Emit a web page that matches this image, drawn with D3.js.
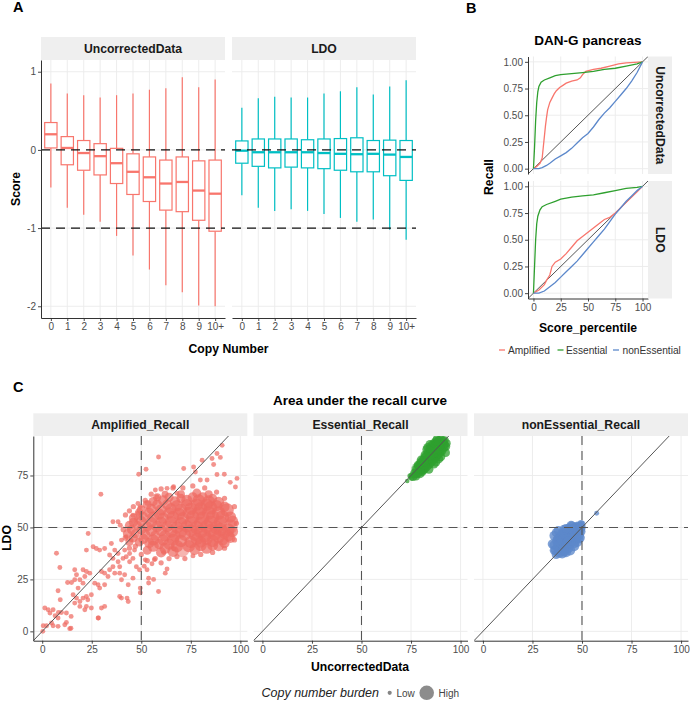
<!DOCTYPE html>
<html><head><meta charset="utf-8">
<script src="https://cdn.jsdelivr.net/npm/d3@7"></script>
<style>
body{margin:0;background:#fff}
svg{display:block;font-family:"Liberation Sans",Arial,Helvetica,sans-serif}
</style>
</head><body>
<svg id="c" width="690" height="701"></svg>
<script>
// ---------------- DATA ----------------
const copyNumbers = ["0","1","2","3","4","5","6","7","8","9","10+"];
// [lower whisker, Q1, median, Q3, upper whisker]
const uncorrectedBoxes = [
  [-0.48,0.025,0.20,0.35,0.85],
  [-0.74,-0.19,0.025,0.17,0.72],
  [-0.83,-0.26,-0.04,0.12,0.70],
  [-0.92,-0.32,-0.08,0.08,0.67],
  [-1.10,-0.43,-0.17,0.02,0.70],
  [-1.35,-0.57,-0.28,-0.05,0.72],
  [-1.53,-0.66,-0.35,-0.09,0.77],
  [-1.73,-0.77,-0.43,-0.13,0.79],
  [-1.82,-0.79,-0.41,-0.09,0.93],
  [-1.99,-0.90,-0.52,-0.14,0.80],
  [-2.00,-1.04,-0.56,-0.13,0.90]
];
const ldoBoxes = [
  [-0.58,-0.17,-0.01,0.115,0.54],
  [-0.74,-0.21,-0.03,0.14,0.66],
  [-0.78,-0.23,-0.03,0.14,0.68],
  [-0.76,-0.22,-0.03,0.14,0.67],
  [-0.78,-0.23,-0.03,0.13,0.67],
  [-0.82,-0.24,-0.04,0.14,0.72],
  [-0.87,-0.26,-0.05,0.145,0.75],
  [-0.92,-0.28,-0.055,0.155,0.80],
  [-0.89,-0.28,-0.05,0.12,0.71],
  [-1.02,-0.33,-0.06,0.125,0.81],
  [-1.15,-0.39,-0.09,0.12,0.89]
];
const scoreTicks = [-2,-1,0,1];
const scoreRefLines = [0,-1];

// Panel B: recall curves [Score_percentile, Recall]
const amplifiedUncorrected = [[0,0],[3,0.02],[6,0.05],[8,0.1],[9,0.2],[10,0.3],[11,0.4],[12,0.48],[13,0.55],[15,0.62],[17,0.66],[19,0.7],[21,0.73],[24,0.76],[27,0.78],[30,0.8],[35,0.82],[40,0.83],[43,0.85],[45,0.88],[48,0.91],[55,0.93],[62,0.94],[70,0.96],[78,0.98],[85,0.99],[100,1]];
const essentialUncorrected = [[0,0],[1,0.2],[2,0.45],[3,0.62],[4,0.72],[5,0.77],[7,0.81],[10,0.83],[15,0.85],[20,0.87],[25,0.88],[35,0.89],[45,0.9],[55,0.91],[65,0.93],[75,0.94],[85,0.96],[95,0.98],[100,1]];
const nonEssentialUncorrected = [[0,0],[5,0],[8,0.01],[12,0.03],[15,0.05],[20,0.09],[25,0.12],[30,0.15],[35,0.19],[40,0.24],[45,0.29],[50,0.33],[55,0.39],[60,0.46],[65,0.52],[70,0.57],[75,0.63],[80,0.69],[85,0.75],[90,0.82],[95,0.9],[100,1]];
const amplifiedLDO = [[0,0],[5,0.03],[10,0.08],[12,0.12],[15,0.17],[17,0.25],[20,0.29],[25,0.32],[30,0.37],[35,0.43],[40,0.49],[45,0.53],[50,0.57],[55,0.61],[60,0.65],[65,0.69],[70,0.71],[75,0.75],[80,0.8],[85,0.85],[90,0.9],[95,0.95],[100,1]];
const essentialLDO = [[0,0],[1,0.25],[2,0.5],[3,0.65],[4,0.72],[6,0.78],[8,0.81],[12,0.83],[20,0.86],[25,0.88],[35,0.9],[45,0.91],[55,0.92],[65,0.94],[75,0.96],[85,0.98],[95,0.99],[100,1]];
const nonEssentialLDO = [[0,0],[5,0],[10,0.02],[15,0.06],[20,0.1],[25,0.15],[30,0.2],[35,0.25],[40,0.3],[45,0.36],[50,0.42],[55,0.48],[60,0.54],[65,0.6],[70,0.67],[75,0.74],[80,0.8],[85,0.86],[90,0.91],[95,0.96],[100,1]];
const percentileTicks = [0,25,50,75,100];
const recallTicks = [0,0.25,0.5,0.75,1];
const recallClasses = ["Amplified","Essential","nonEssential"];

// Panel C: [UncorrectedData, LDO, copy-number burden 0..1]
const amplifiedPts = [
 [0.3,0,0.12],[0.5,2.7,0.12],[2.2,2.7,0.12],[4.7,4,0.12],[5.5,2.7,0.12],[8,2.4,0.12],[11.4,3.2,0.12],[12.2,4.3,0.12],[13.9,1.3,0.12],[14.5,1.5,0.12],
 [1.3,11.2,0.12],[3,10.4,0.12],[5.5,10.4,0.12],[3.9,8.8,0.12],[9.7,9.1,0.12],[12.2,8.8,0.12],[8,6.4,0.12],[6.5,7.5,0.12],[9.1,15.2,0.12],[14.6,7.2,0.12],[8.2,9.1,0.12],[28.4,6.4,0.12],
 [8,19.5,0.12],[12.8,23.5,0.12],[14.8,23.5,0.12],[16.4,29.6,0.12],[17.3,27.2,0.12],[16.4,24.8,0.12],[19,24.8,0.12],[20.6,29.6,0.12],[22.3,28.8,0.12],[24,28,0.12],[21.5,26.4,0.12],[20.6,23.2,0.12],[18.1,20.8,0.12],[15.6,17.6,0.12],[17.3,16,0.12],[16.4,13.6,0.12],[19,14.4,0.12],[20.6,16,0.12],[22.3,16.8,0.12],[24.8,17.6,0.12],[23,15.2,0.12],[19,12,0.12],[22.3,12,0.12],[24.8,11.2,0.12],[21.5,10.4,0.12],[28.2,6.4,0.12],[29.9,11.2,0.12],[31.5,12,0.12],
 [29,20.8,0.12],[28.2,22.4,0.12],[31.5,22.4,0.12],[26.5,23.2,0.12],[29.9,28.8,0.12],[31.5,28,0.12],[34,29.6,0.12],[33.2,26.4,0.12],[36.6,28,0.12],[35.7,31.1,0.12],[39.1,31.1,0.12],[39.1,28,0.12],[41.6,27.2,0.12],[40,24.8,0.12],[40,16,0.12],[43.4,14.4,0.12],[39.1,16.8,0.12],[43.4,22.4,0.12],[45.8,25.6,0.12],
 [25.7,40.7,0.12],[27.3,39.9,0.12],[29,39.1,0.12],[31.5,39.9,0.12],[22.3,39.1,0.12],[23.2,47.1,0.12],[34.9,42.3,0.12],[36.6,39.1,0.12],[38.3,37.5,0.12],[34,36.7,0.12],[35.7,35.1,0.12],[38.3,33.5,0.12],[40.8,35.1,0.12],[42.4,35.9,0.12],[44.1,33.5,0.12],[45.8,35.1,0.12],[41.6,39.1,0.12],[44.1,37.5,0.12],[46.6,39.1,0.12],[47.5,31.1,0.12],[49.1,29.6,0.12],[40,43.9,0.12],[42.4,45.5,0.12],[44.9,43.9,0.12],[35.7,52.7,0.12],[38.3,52.7,0.12],[39.4,51.1,0.12],[45.8,55.9,0.12],[47.5,54.3,0.12],[48.3,56.7,0.12],[48.3,61.5,0.12],
 [29.6,66,0.12],[48.7,75.6,0.12],[52.4,78,0.12],[58.7,83.9,0.12],[7.2,37.6,0.12],[8.9,30.7,0.12],
 [42.8,16,0.12],[49.5,20.8,0.12],[49.5,18.6,0.12],[53.7,25.6,0.12],[53.7,23.3,0.12],[58.7,19.2,0.12],[56.2,25,0.12],[62.1,28,0.12],[63,30,0.12],[61.3,37.9,0.12],[66.3,39.7,0.12],[76.1,36.3,0.12],[55.4,32.5,0.12],[56.6,34.5,0.12],[52,34.4,0.12],[51.5,31.3,0.12],[52.9,29.6,0.12],
 [49.5,60,0.12],[52.9,61.6,0.12],[57.1,68,0.12],[57.9,64.8,0.12],[63,68.8,0.12],[66.3,69.6,0.12],[68,66.4,0.12],[71.4,78.4,0.12],[76.4,79.1,0.12],[77.3,76.7,0.12],[80.7,82.3,0.12],[85.7,83.2,0.12],[88.2,85.6,0.12],[89.9,83.7,0.12],[90.8,89.5,0.12],[86.5,80.3,0.12],[91.9,75.6,0.12],[98.3,73.6,0.12],[97.5,69.5,0.12],[94.9,71.7,0.12],[79.8,72.8,0.12],[83.2,72.8,0.12],[88.2,75.5,0.12],
 [42,56,0.15],[44,58,0.15],[46,60,0.15],[41,49,0.2],[42,45,0.2],[44,40,0.15],[47,41,0.15],[50,37,0.15],[53,34,0.15],[57,35,0.15],[60,33,0.15],[64,35,0.15],[68,36,0.15],[72,35,0.15],[80,37,0.15],[86,38,0.15],[92,40,0.15],[97,44,0.15],[98,52,0.15],[97,60,0.15],[92,64,0.15],[88,67,0.15],[82,69,0.15],[76,70,0.15],[71,69,0.15],[66,69,0.15],[60,68.5,0.15],[55,66,0.15],[52,63,0.15],
 [53,39,0.5],[60,38,0.6],[66,38.5,0.7],[70.5,39.2,1.0],[77,39.5,0.7],[83,40,0.7],[89,41,0.6],
 [56,41,0.7],[62,40,0.7],[68,41,0.8],[74,41,0.8],[80,41.5,0.8],[86,41.5,0.7],[92,42.5,0.6],
 [44,43,0.4],[49,43,0.5],[54,42.5,0.6],[59,42,0.6],[64,42,0.7],[75,43,0.8],[80,43,0.7],[86,43.5,0.8],[91,44,0.7],[95,45,0.6],
 [46,45,0.5],[51,44.5,0.6],[56,44,0.7],[61,44,0.7],[66,44,0.8],[70,43.5,0.8],[78,44.5,0.8],[83,44.5,0.8],[89,45.5,0.8],[94,46,0.7],
 [43,47,0.5],[47,47,0.5],[52,46.5,0.6],[57,46,0.6],[62,46,0.7],[67,46,0.7],[72,46.5,0.8],[77,46.5,0.8],[82,46,0.9],[87,47,0.9],[92,47.5,0.8],[96,48,0.7],
 [45,49,0.5],[50,49,0.6],[55,48.5,0.7],[60,48.5,0.7],[65,48,0.8],[70,48,0.8],[75,48.5,0.8],[80,48,0.9],[85,48.5,0.9],[90,49,0.9],[94,49,0.8],
 [44,51,0.5],[48,51,0.5],[53,50.5,0.6],[58,50.5,0.7],[63,50.5,0.7],[68,50,0.8],[73,50.5,0.8],[78,50,0.9],[83,50.5,0.9],[88,50,0.9],[95,50.4,1.0],
 [46,52.5,0.5],[50,53,0.6],[55,52.5,0.7],[60,52.5,0.7],[65,52.5,0.8],[70,52,0.8],[75,52.5,0.8],[80,52,0.9],[85,52.5,0.9],[90,52.5,0.9],[96,53,0.7],
 [46,54.5,0.5],[51,55,0.6],[56,55,0.7],[61,54.5,0.7],[66,55,0.8],[71,54.5,0.8],[76,55,0.9],[81,54.5,0.9],[86,55,0.9],[91,55,0.9],[95,55,0.7],
 [49,57,0.5],[54,57,0.6],[59,56.5,0.7],[64,57,0.7],[69,56.5,0.8],[74,57,0.8],[79,57,0.9],[84,57,0.9],[89,57,0.9],
 [50,58.5,0.5],[55,59,0.6],[60,58.5,0.7],[65,59,0.7],[70,58.5,0.8],[75,59,0.8],[80,59,0.9],[85,59.5,0.9],[93.3,58.4,0.9],
 [53,61,0.5],[58,61,0.6],[63,61,0.6],[68,60.5,0.7],[73,61,0.7],[78,61,0.8],[83,61,0.8],[88,60.5,0.7],[92,60,0.6],
 [56,62.5,0.5],[61,63,0.6],[67,62.5,0.6],[73,63,0.7],[79,63,0.8],[84,62.5,0.8],[89,62,0.7],
 [58,64.5,0.4],[64,64.5,0.5],[70,64,0.5],[76,64.5,0.6],[81,64.5,0.6],[86,64,0.5],
 [62,66,0.3],[70,66,0.4],[78,66.5,0.5],[84,66,0.4]
];
const essentialPts = [
 [73.1,72.3,0.08],[75.3,73.9,0.2],[74.5,74.8,0.15],[78.8,77.9,1.0],[80.5,78.5,0.8],
 [76,74.5,0.5],[77.5,74.5,0.4],[92,92,0.4],[92.5,89,0.5],[83,87.5,0.5],[85.5,89.5,0.5],[88,92.5,0.4],[89,83,0.5],[86.5,80.5,0.5],[84,78,0.5],
 [83.5,88.5,0.5],[84.5,90,0.45],[93,90.5,0.4],[92.5,86,0.45],[90,84,0.5],[87.5,81.5,0.5],
 [77,76,0.55],[78,78,0.55],[79,79.5,0.55],[80,81,0.55],[81,82,0.55],[82,83.5,0.55],[83,84.5,0.55],[84,86,0.55],[85,87,0.55],[86,88,0.55],[87,89.5,0.55],[88,90.5,0.55],[89,91.5,0.55],[90,92,0.55],[91,91.5,0.55],[91.5,90,0.55],[91.5,88.5,0.55],[90.5,87,0.55],[89.5,86,0.55],[88.5,85,0.55],[87.5,84,0.55],[86.5,83,0.55],[85.5,82,0.55],[84.5,81,0.55],[83.5,80,0.55],[82.5,79,0.55],[81.5,78,0.55],[80.5,77,0.55],[79.5,76,0.55],[78,76,0.55],
 [79.5,78,0.5],[81,80,0.5],[82.5,81.5,0.5],[84,83,0.5],[85.5,84.5,0.5],[87,86,0.5],[88.5,87.5,0.5],[89.5,89,0.5],[80,79.5,0.5],[83,82.5,0.5],[86,85.5,0.5],[88,88.5,0.5],[90,90,0.5],[85,86,0.5],[82,80,0.5],[87,87.5,0.5],[84.5,84.5,0.5],[81.5,81.5,0.5],[78.5,80,0.45],[80,82.5,0.45],[82,85,0.45],[84.5,88,0.45],[86.5,90.5,0.45],[87.5,91.5,0.45]
];
const nonEssentialPts = [
 [57.4,56.8,0.12],
 [36,39,0.5],[35,42,0.5],[37,37,0.5],[41,38.5,0.6],[43,40,0.6],[46,42.5,0.6],[48.5,44.5,0.5],[38,44.5,0.6],[40,47,0.6],[42,49.5,0.5],[44.5,51,0.5],
 [36,46,0.55],[37,47.5,0.5],[38,48.5,0.5],[47.5,43,0.6],[49,45,0.55],[46,41,0.6],[44,39,0.6],[40,41,0.6],[38,42,0.6],[42,38,0.55],[41,49,0.55],[49,49,0.55],
 [37,39,0.65],[38,40.5,0.65],[39,42,0.65],[40,43,0.65],[41,44,0.65],[42,45.5,0.65],[43,46.5,0.65],[44,47.5,0.65],[45,48.5,0.65],[46,49.5,0.6],[47,50,0.6],[48,50.5,0.55],[49,50.5,0.5],[50,50,0.35],[49.5,48,0.5],[48.5,46.5,0.6],[47,45,0.65],[45.5,44,0.65],[44,42.5,0.65],[42.5,41.5,0.65],[41,40.5,0.65],[39.5,39,0.65],[38.5,38,0.65],[40,37.5,0.6],[36,41.5,0.55],[37.5,43.5,0.6],[39,45,0.65],[40.5,46.5,0.65],[42,48,0.65],[43.5,49.5,0.6],[45,50.5,0.55],[44,44.5,0.65],[41.5,42.5,0.65],[46.5,47.5,0.65],[43,43,0.65],[48,48.5,0.6],[50,51.5,0.3],[49.5,52,0.25]
];
const aucXTicks = [0,25,50,75,100];
const aucYTicks = [0,25,50,75];
const aucFacets = ["Amplified_Recall","Essential_Recall","nonEssential_Recall"];

// ---------------- STYLE ----------------
const GRID="#EBEBEB", AXIS="#333333", TICKTXT="#4D4D4D", STRIP="#EFEFEF";
const RED="#F8766D", TEAL="#00BFC4", GREEN="#2FA02F", BLUE="#5C88CB";
const svg = d3.select("#c");

function stripBox(x0,y0,w,h,label,vertical){
  svg.append("rect").attr("x",x0).attr("y",y0).attr("width",w).attr("height",h).attr("fill",STRIP);
  const t = svg.append("text").text(label).attr("font-weight","bold").attr("font-size",12.2)
    .attr("fill","#1a1a1a").attr("text-anchor","middle").attr("dominant-baseline","central");
  if(vertical) t.attr("transform",`translate(${x0+w/2},${y0+h/2}) rotate(90)`);
  else t.attr("x",x0+w/2).attr("y",y0+h/2+0.5);
}
function styleAxis(g,fs){
  g.select(".domain").attr("stroke",AXIS).attr("stroke-width",1);
  g.selectAll(".tick line").attr("stroke",AXIS).attr("stroke-width",0.9);
  g.selectAll(".tick text").attr("fill",TICKTXT).attr("font-size",fs).attr("font-family",'"Liberation Sans",Arial,sans-serif');
}
function panelLabel(t,x,y){
  svg.append("text").text(t).attr("x",x).attr("y",y).attr("font-weight","bold").attr("font-size",14.5);
}
function clip(id,x,y,w,h){
  svg.append("clipPath").attr("id",id).append("rect").attr("x",x).attr("y",y).attr("width",w).attr("height",h);
}

// ================= PANEL A =================
panelLabel("A",13,12);
const yA = d3.scaleLinear().domain([-2.15,1.15]).range([318,60]);
const aPanels = [
  {x0:41,x1:225,label:"UncorrectedData",data:uncorrectedBoxes,col:RED},
  {x0:232,x1:416,label:"LDO",data:ldoBoxes,col:TEAL}
];
aPanels.forEach((p,pi)=>{
  const x = d3.scalePoint().domain(copyNumbers).range([p.x0,p.x1]).padding(0.6);
  const g = svg.append("g");
  copyNumbers.forEach(c=>g.append("line").attr("x1",x(c)).attr("x2",x(c)).attr("y1",60).attr("y2",318).attr("stroke",GRID).attr("stroke-width",0.9));
  scoreTicks.forEach(v=>g.append("line").attr("x1",p.x0).attr("x2",p.x1).attr("y1",yA(v)).attr("y2",yA(v)).attr("stroke",GRID).attr("stroke-width",0.9));
  const bw = x.step()*0.75;
  p.data.forEach((b,i)=>{
    const cx = x(copyNumbers[i]);
    g.append("line").attr("x1",cx).attr("x2",cx).attr("y1",yA(b[4])).attr("y2",yA(b[3])).attr("stroke",p.col).attr("stroke-width",1.2);
    g.append("line").attr("x1",cx).attr("x2",cx).attr("y1",yA(b[1])).attr("y2",yA(b[0])).attr("stroke",p.col).attr("stroke-width",1.2);
    g.append("rect").attr("x",cx-bw/2).attr("width",bw).attr("y",yA(b[3])).attr("height",yA(b[1])-yA(b[3]))
      .attr("fill","#fff").attr("stroke",p.col).attr("stroke-width",1.2);
    g.append("line").attr("x1",cx-bw/2).attr("x2",cx+bw/2).attr("y1",yA(b[2])).attr("y2",yA(b[2])).attr("stroke",p.col).attr("stroke-width",2.3);
  });
  scoreRefLines.forEach(v=>g.append("line").attr("x1",p.x0).attr("x2",p.x1).attr("y1",yA(v)).attr("y2",yA(v))
    .attr("stroke","#111").attr("stroke-width",1.2).attr("stroke-dasharray","9,6"));
  const ax = svg.append("g").attr("transform","translate(0,318)").call(d3.axisBottom(x).tickSize(3).tickSizeOuter(0).tickPadding(2));
  styleAxis(ax,10);
  if(pi===0){
    const ay = svg.append("g").attr("transform",`translate(${p.x0},0)`).call(d3.axisLeft(yA).tickValues(scoreTicks).tickSize(3).tickSizeOuter(0).tickPadding(2).tickFormat(d=>String(d)));
    styleAxis(ay,10);
  }
  stripBox(p.x0,37,p.x1-p.x0,23,p.label,false);
});
svg.append("text").text("Score").attr("transform","translate(19.5,189) rotate(-90)").attr("text-anchor","middle").attr("font-weight","bold").attr("font-size",12.2);
svg.append("text").text("Copy Number").attr("x",228.5).attr("y",353).attr("text-anchor","middle").attr("font-weight","bold").attr("font-size",12.2);

// ================= PANEL B =================
panelLabel("B",466,12.5);
svg.append("text").text("DAN-G pancreas").attr("x",588).attr("y",45).attr("text-anchor","middle").attr("font-weight","bold").attr("font-size",13.5);
const xB = d3.scaleLinear().domain([-5,105]).range([528,648]);
const classColor = d3.scaleOrdinal().domain(recallClasses).range([RED,GREEN,BLUE]);
const bPanels = [
  {y0:56.5,y1:174,label:"UncorrectedData",series:[amplifiedUncorrected,essentialUncorrected,nonEssentialUncorrected]},
  {y0:181,y1:298.5,label:"LDO",series:[amplifiedLDO,essentialLDO,nonEssentialLDO]}
];
bPanels.forEach((p,pi)=>{
  const y = d3.scaleLinear().domain([-0.05,1.05]).range([p.y1,p.y0]);
  const g = svg.append("g");
  clip("clipB"+pi,528,p.y0,120,p.y1-p.y0);
  percentileTicks.forEach(v=>g.append("line").attr("x1",xB(v)).attr("x2",xB(v)).attr("y1",p.y0).attr("y2",p.y1).attr("stroke",GRID).attr("stroke-width",0.9));
  recallTicks.forEach(v=>g.append("line").attr("x1",528).attr("x2",648).attr("y1",y(v)).attr("y2",y(v)).attr("stroke",GRID).attr("stroke-width",0.9));
  const inner = g.append("g").attr("clip-path",`url(#clipB${pi})`);
  inner.append("line").attr("x1",xB(-5)).attr("y1",y(-0.05)).attr("x2",xB(105)).attr("y2",y(1.05)).attr("stroke","#555").attr("stroke-width",1);
  const line = d3.line().x(d=>xB(d[0])).y(d=>y(d[1]));
  p.series.forEach((s,i)=>inner.append("path").attr("d",line(s)).attr("fill","none").attr("stroke",classColor(recallClasses[i])).attr("stroke-width",1.3));
  const ay = svg.append("g").attr("transform","translate(528,0)").call(d3.axisLeft(y).tickValues(recallTicks).tickSize(3).tickSizeOuter(0).tickPadding(2).tickFormat(d3.format(".2f")));
  styleAxis(ay,10);
  if(pi===1){
    const ax = svg.append("g").attr("transform",`translate(0,${p.y1})`).call(d3.axisBottom(xB).tickValues(percentileTicks).tickSize(3).tickSizeOuter(0).tickPadding(2));
    styleAxis(ax,10);
  }
  stripBox(648,p.y0,24,p.y1-p.y0,p.label,true);
});
svg.append("text").text("Recall").attr("transform","translate(493,177) rotate(-90)").attr("text-anchor","middle").attr("font-weight","bold").attr("font-size",12.2);
svg.append("text").text("Score_percentile").attr("x",588).attr("y",332).attr("text-anchor","middle").attr("font-weight","bold").attr("font-size",12.2);
const legB = [{x:499,tx:508},{x:557.5,tx:566},{x:613,tx:622.5}];
recallClasses.forEach((c,i)=>{
  svg.append("line").attr("x1",legB[i].x).attr("x2",legB[i].x+6).attr("y1",350).attr("y2",350).attr("stroke",classColor(c)).attr("stroke-width",1.3);
  svg.append("text").text(c).attr("x",legB[i].tx).attr("y",353.5).attr("font-size",10.2).attr("fill","#333");
});

// ================= PANEL C =================
panelLabel("C",13,391.5);
svg.append("text").text("Area under the recall curve").attr("x",360).attr("y",405).attr("text-anchor","middle").attr("font-weight","bold").attr("font-size",13.5);
const yC = d3.scaleLinear().domain([-4.5,94]).range([640.7,436]);
const rC = d3.scaleLinear().domain([0,1]).range([1.8,7.3]);
const cPanels = [
  {x0:33.3,pts:amplifiedPts,col:"#EE6B62",op:0.72},
  {x0:253.5,pts:essentialPts,col:GREEN,op:0.75},
  {x0:474,pts:nonEssentialPts,col:BLUE,op:0.78}
];
cPanels.forEach((p,pi)=>{
  const W=214;
  const x = d3.scaleLinear().domain([-4.5,103.5]).range([p.x0,p.x0+W]);
  const g = svg.append("g");
  clip("clipC"+pi,p.x0,436,W,204.7);
  aucXTicks.forEach(v=>g.append("line").attr("x1",x(v)).attr("x2",x(v)).attr("y1",436).attr("y2",640.7).attr("stroke",GRID).attr("stroke-width",0.9));
  aucYTicks.forEach(v=>g.append("line").attr("x1",p.x0).attr("x2",p.x0+W).attr("y1",yC(v)).attr("y2",yC(v)).attr("stroke",GRID).attr("stroke-width",0.9));
  const inner = g.append("g").attr("clip-path",`url(#clipC${pi})`);
  const sorted = p.pts.slice().sort((a,b)=>b[2]-a[2]);
  inner.selectAll("circle").data(sorted).join("circle")
    .attr("cx",d=>x(d[0])).attr("cy",d=>yC(d[1])).attr("r",d=>rC(d[2]))
    .attr("fill",p.col).attr("fill-opacity",d=>d[2]>0.95?0.5:p.op);
  inner.append("line").attr("x1",x(-10)).attr("y1",yC(-10)).attr("x2",x(110)).attr("y2",yC(110)).attr("stroke","#555").attr("stroke-width",1);
  inner.append("line").attr("x1",x(50)).attr("x2",x(50)).attr("y1",436).attr("y2",640.7).attr("stroke","#555").attr("stroke-width",1.1).attr("stroke-dasharray","9,6");
  inner.append("line").attr("x1",p.x0).attr("x2",p.x0+W).attr("y1",yC(50)).attr("y2",yC(50)).attr("stroke","#555").attr("stroke-width",1.1).attr("stroke-dasharray","9,6");
  const ax = svg.append("g").attr("transform","translate(0,640.7)").call(d3.axisBottom(x).tickValues(aucXTicks).tickSize(3).tickSizeOuter(0).tickPadding(2));
  styleAxis(ax,10);
  if(pi===0){
    const ay = svg.append("g").attr("transform",`translate(${p.x0},0)`).call(d3.axisLeft(yC).tickValues(aucYTicks).tickSize(3).tickSizeOuter(0).tickPadding(2));
    styleAxis(ay,10);
  }
  stripBox(p.x0,413.3,W,22.7,aucFacets[pi],false);
});
svg.append("text").text("LDO").attr("transform","translate(11,538) rotate(-90)").attr("text-anchor","middle").attr("font-weight","bold").attr("font-size",12.2);
svg.append("text").text("UncorrectedData").attr("x",360).attr("y",671).attr("text-anchor","middle").attr("font-weight","bold").attr("font-size",12.2);
svg.append("text").text("Copy number burden").attr("x",261.5).attr("y",697).attr("font-style","italic").attr("font-size",12.5).attr("fill","#222");
svg.append("circle").attr("cx",389.7).attr("cy",692.8).attr("r",rC(0.05)).attr("fill","#666").attr("fill-opacity",0.8);
svg.append("text").text("Low").attr("x",396.5).attr("y",696.5).attr("font-size",10).attr("fill","#444");
svg.append("circle").attr("cx",426.7).attr("cy",692.8).attr("r",rC(1)).attr("fill","#666").attr("fill-opacity",0.75);
svg.append("text").text("High").attr("x",438.5).attr("y",696.5).attr("font-size",10).attr("fill","#444");
</script>
</body></html>
